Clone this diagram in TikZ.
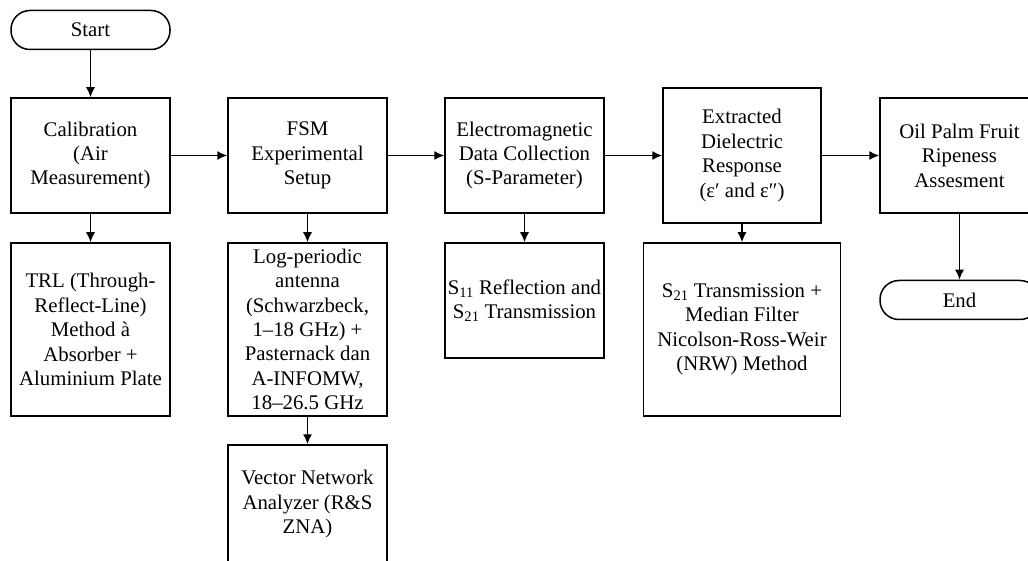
\documentclass[tikz,border=0pt]{standalone}
\usepackage{fontspec}
\setmainfont{Liberation Serif}
\usetikzlibrary{arrows.meta,shapes}

\tikzset{
  box/.style={rectangle, draw, black, line width=1.5pt, inner sep=0pt, align=center,
    minimum width=159pt, font=\fontsize{20.8}{24.4}\selectfont},
  term/.style={box, rounded corners=19pt, minimum height=39pt},
  flow/.style={-{Latex[length=10pt,width=9pt]}, line width=1.5pt}
}

\begin{document}
\begin{tikzpicture}[x=1pt,y=-1pt]
\useasboundingbox (0,0) rectangle (1028,561);
% top row
\node[term] (start) at (90.5,30) {Start};
\node[box, minimum height=115pt] (cal) at (90.5,155.5) {Calibration\\(Air\\Measurement)};
\node[box, minimum height=115pt] (fsm) at (307.5,155.5) {FSM\\Experimental\\Setup};
\node[box, minimum height=115pt] (emdc) at (524.5,155.5) {Electromagnetic\\Data Collection\\(S-Parameter)};
\node[box, minimum width=158pt, minimum height=135pt] (diel) at (742,155.5) {Extracted\\Dielectric\\Response\\(ε′ and ε″)};
\node[box, minimum height=115pt] (ripe) at (959.5,155.5) {Oil Palm Fruit\\Ripeness\\Assesment};
% lower row
\node[box, minimum height=173pt] (trl) at (90.5,329.5) {TRL (Through-\\Reflect-Line)\\Method à\\Absorber +\\Aluminium Plate};
\node[box, minimum height=173pt] (antenna) at (307.5,329.5) {Log-periodic\\antenna\\(Schwarzbeck,\\1–18 GHz) +\\Pasternack dan\\A-INFOMW,\\18–26.5 GHz};
\node[box, minimum height=118pt] (vna) at (307.5,504) {Vector Network\\Analyzer (R\&S\\ZNA)};
\node[box, minimum height=115pt] (sparam) at (524.5,300.5) {S\textsubscript{11} Reflection and\\S\textsubscript{21} Transmission};
\node[box, minimum width=197pt, minimum height=173pt] (nrw) at (742,329.5) {S\textsubscript{21} Transmission +\\Median Filter\\Nicolson-Ross-Weir\\(NRW) Method};
\node[term] (stop) at (959.5,300) {End};
% connectors
\draw[flow] (start) -- (cal);
\draw[flow] (cal) -- (fsm);
\draw[flow] (fsm) -- (emdc);
\draw[flow] (emdc) -- (diel);
\draw[flow] (diel) -- (ripe);
\draw[flow] (cal) -- (trl);
\draw[flow] (fsm) -- (antenna);
\draw[flow] (antenna) -- (vna);
\draw[flow] (emdc) -- (sparam);
\draw[flow] (diel) -- (nrw);
\draw[flow] (ripe) -- (stop);
\end{tikzpicture}
\end{document}
